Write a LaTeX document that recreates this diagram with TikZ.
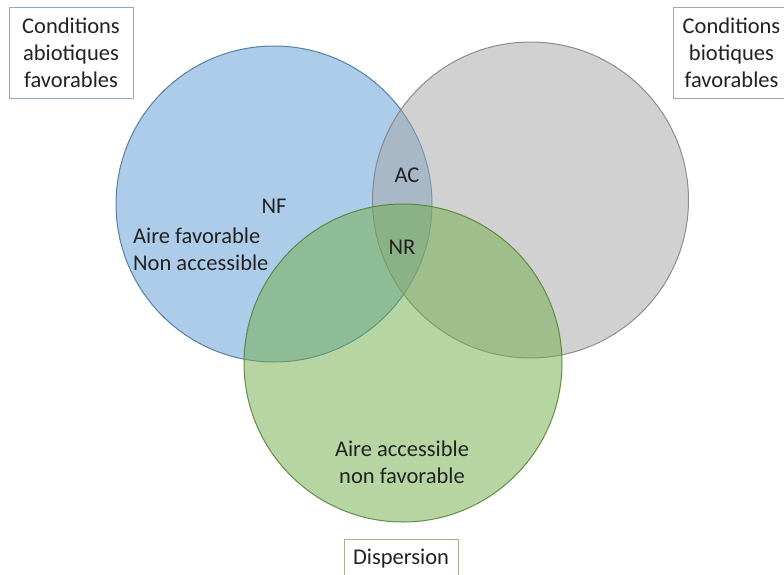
\documentclass[tikz,border=0pt]{standalone}
\usepackage{fontspec}
\setmainfont{Carlito}
\definecolor{bluefill}{HTML}{5B9BD5}
\definecolor{bluedraw}{HTML}{41719C}
\definecolor{greyfill}{HTML}{A5A5A5}
\definecolor{greydraw}{HTML}{7F7F7F}
\definecolor{greenfill}{HTML}{70AD47}
\definecolor{greendraw}{HTML}{507E32}
\definecolor{txt}{HTML}{222222}
\definecolor{boxblue}{HTML}{8EAACB}
\definecolor{boxgrey}{HTML}{A6A6A6}
\definecolor{boxgreen}{HTML}{9DB88A}
\tikzset{
  venn/.style={circle, inner sep=0pt, minimum size=316pt, line width=1pt, fill opacity=0.5, draw opacity=0.85},
  lbl/.style={font=\fontsize{22.5}{27}\selectfont, text=txt, inner sep=0pt},
  tagbox/.style={draw, line width=0.8pt, font=\fontsize{22.5}{27}\selectfont, text=txt, align=center, fill=white}
}
\begin{document}
\begin{tikzpicture}[x=1pt,y=-1pt]
\clip (0,0) rectangle (784,574);
\fill[white] (0,0) rectangle (784,574);
% circles
\node[venn, fill=bluefill, draw=bluedraw] (abio) at (274,204) {};
\node[venn, fill=greyfill, draw=greydraw] (bio) at (530.5,200) {};
\node[venn, fill=greenfill, draw=greendraw, minimum size=318pt] (disp) at (403,363) {};
% region labels
\node[lbl] (nf) at (274,206) {NF};
\node[lbl, align=left, anchor=west] (nfdesc) at (133,249) {Aire favorable\\Non accessible};
\node[lbl] (ac) at (407,175) {AC};
\node[lbl] (nr) at (402,247) {NR};
\node[lbl, align=center] (adesc) at (402,462) {Aire accessible\\non favorable};
% set labels
\node[tagbox, draw=boxblue, minimum width=124pt, minimum height=91pt] (tabio) at (71,52.5) {Conditions\\abiotiques\\favorables};
\node[tagbox, draw=boxgrey, minimum width=117pt, minimum height=91pt] (tbio) at (731.5,52.5) {Conditions\\biotiques\\favorables};
\node[tagbox, draw=boxgreen, anchor=north, inner xsep=9pt, inner ysep=9.5pt, text height=15.5pt, text depth=20pt] (tdisp) at (401,539) {Dispersion};
\end{tikzpicture}
\end{document}
